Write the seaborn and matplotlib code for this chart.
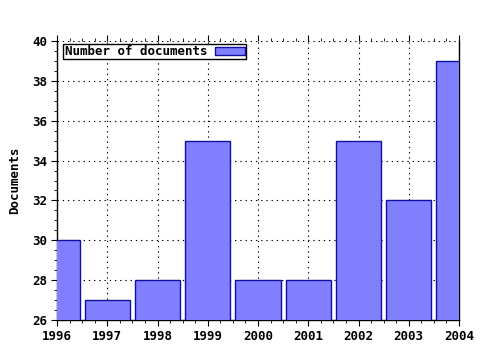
import matplotlib
matplotlib.use("Agg")
import matplotlib.pyplot as plt
import seaborn as sns
import pandas as pd
from matplotlib.ticker import AutoMinorLocator, MultipleLocator

years = ["1996", "1997", "1998", "1999", "2000", "2001", "2002", "2003", "2004"]
documents = [30, 27, 28, 35, 28, 28, 35, 32, 39]
series_name = "Number of documents"

df = pd.DataFrame({"year": years, "docs": documents, "series": series_name})

sns.set_theme(style="white")
plt.rcParams["font.family"] = ["DejaVu Sans Mono", "DejaVu Sans"]
plt.rcParams["font.weight"] = "bold"
plt.rcParams["text.color"] = "black"

fig = plt.figure(figsize=(4.8, 3.5), dpi=100)
ax = fig.add_axes([57/480, 1-320/350, (459-57)/480, (320-41)/350])

sns.barplot(data=df, x="year", y="docs", hue="series", ax=ax,
            palette=["#8080ff"], edgecolor="#1010a0",
            linewidth=1.0, width=0.9, saturation=1, zorder=3)

ax.set_xlim(0, 8)
ax.set_ylim(26, 40)
ax.yaxis.set_major_locator(MultipleLocator(2))
ax.xaxis.set_minor_locator(AutoMinorLocator(4))
ax.yaxis.set_minor_locator(AutoMinorLocator(4))
ax.grid(True, which="major", color="black", linestyle=(0, (1.2, 3.5)), linewidth=0.8, zorder=0)
ax.set_axisbelow(True)

for s in ["left", "bottom", "right"]:
    ax.spines[s].set_visible(True)
    ax.spines[s].set_color("black")
    ax.spines[s].set_linewidth(1.0)
ax.spines["top"].set_visible(False)

ax.tick_params(axis="both", which="major", direction="out", length=4, width=0.8,
               color="black", labelsize=9, labelcolor="black", left=True, bottom=True, pad=3)
ax.tick_params(axis="both", which="minor", direction="out", length=2, width=0.6,
               color="black", left=True, bottom=True)
ax.tick_params(axis="x", which="both", top=True)
for lab in ax.get_xticklabels() + ax.get_yticklabels():
    lab.set_fontweight("bold")
    lab.set_color("black")

ax.set_xlabel("")
ax.set_ylabel("Documents", fontsize=9, fontweight="bold", color="black", labelpad=8)

leg = ax.legend(loc="upper left", bbox_to_anchor=(0.016, 0.99), frameon=True, fancybox=False,
                markerfirst=False, fontsize=9, handlelength=2.4, handleheight=0.6,
                borderpad=0.1, handletextpad=0.6, borderaxespad=0.0)
leg.get_frame().set_edgecolor("black")
leg.get_frame().set_linewidth(1.0)
leg.get_frame().set_facecolor("white")
leg.get_frame().set_alpha(1)
for t in leg.get_texts():
    t.set_fontweight("bold")
    t.set_color("black")

fig.savefig("out.png", dpi=100, facecolor="white")
